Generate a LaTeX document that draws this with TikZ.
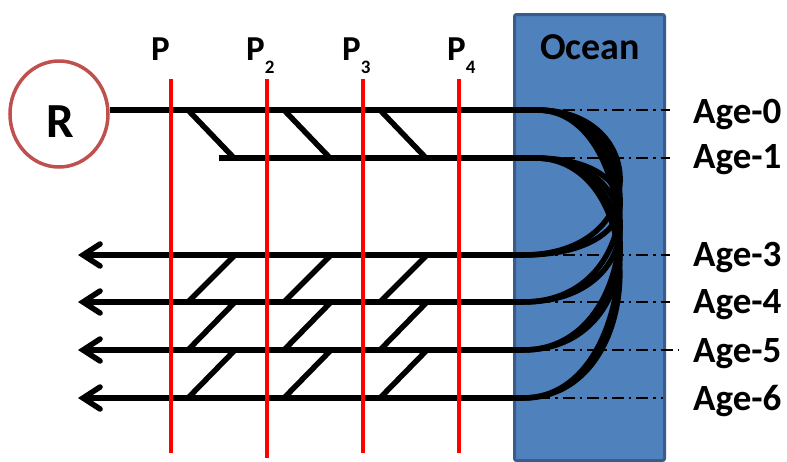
\documentclass[tikz,border=0pt]{standalone}
\usepackage{fontspec}
\setmainfont{Carlito}
\usetikzlibrary{arrows.meta,shapes.geometric}
\definecolor{oceanfill}{RGB}{79,129,189}
\definecolor{oceanline}{RGB}{56,93,138}
\definecolor{ringred}{RGB}{192,80,77}
\definecolor{posred}{RGB}{255,0,0}
\tikzset{
  fishline/.style={line width=5.5pt, black},
  redline/.style={line width=4.5pt, posred},
  dashdot/.style={line width=1.6pt, black, dash pattern=on 12pt off 5pt on 2.5pt off 5pt},
  agelabel/.style={anchor=base west, font=\fontsize{37}{37}\selectfont\bfseries, inner sep=0pt},
  plabel/.style={anchor=base west, font=\fontsize{35}{35}\selectfont\bfseries, inner sep=0pt},
  backarrow/.style={fishline, -{Straight Barb[length=17pt,width=22pt,line cap=round]}},
}
\newcommand{\psub}[1]{\raisebox{-13pt}{\fontsize{19}{19}\selectfont\bfseries #1}}
\begin{document}
\begin{tikzpicture}[x=1pt,y=-1pt]
\useasboundingbox (0,0) rectangle (787,461);
% ocean
\node[draw=oceanline, line width=3pt, fill=oceanfill, rounded corners=2pt, minimum width=150pt, minimum height=446pt, inner sep=0pt, anchor=north west] (ocean) at (513,13) {};
\node[anchor=base, font=\fontsize{38}{38}\selectfont\bfseries, inner sep=0pt] (oceantxt) at (590,59) {Ocean};
% R
\node[ellipse, draw=ringred, line width=3.5pt, minimum width=98pt, minimum height=106pt, inner sep=0pt] (R) at (59,114) {};
\node[font=\fontsize{49}{49}\selectfont\bfseries, inner sep=0pt, anchor=base] (Rtxt) at (60,137) {R};
% coordinates
\coordinate (T0) at (537,110);
\coordinate (T1) at (535,158);
\coordinate (T1s) at (219,158);
\foreach \n/\y in {3/255,4/302,5/350,6/398}{
  \coordinate (B\n) at (523,\y);
  \coordinate (L\n) at (78,\y);
}
% dash-dot age lines
\foreach \n/\y/\e in {0/110/670,1/158/670,3/255/670,4/302/670,5/350/678,6/398/663}{
  \coordinate (D\n s) at (538,\y);
  \coordinate (D\n e) at (\e,\y);
  \draw[dashdot] (D\n s) -- (D\n e);
}
% fish lines
\draw[fishline] (T0) -- (T0 -| R.east);
\draw[fishline] (T1s) -- (T1);
\foreach \n in {3,4,5,6}{
  \draw[backarrow] (B\n) -- (L\n);
}
% ocean loops
\foreach \t in {T0,T1}{
  \foreach \b in {B3,B4,B5,B6}{
    \draw[fishline] (\t) .. controls (\t -| 650,0) and (\b -| 650,0) .. (\b);
  }
}
% diagonals between rows
\foreach \x in {171,267,363}{
  \coordinate (ua\x) at (\x+17,110);
  \coordinate (ub\x) at (\x+63,158);
  \draw[fishline] (ua\x) -- (ub\x);
  \foreach \ya/\yb in {255/302,302/350,350/398}{
    \coordinate (da\x\ya) at (\x+17,\yb);
    \coordinate (db\x\ya) at (\x+64,\ya);
    \draw[fishline] (da\x\ya) -- (db\x\ya);
  }
}
% red position lines
\foreach \x/\b in {171/453,267/458,363/453,459/453}{
  \coordinate (rt\x) at (\x,79);
  \coordinate (rb\x) at (\x,\b);
  \draw[redline] (rt\x) -- (rb\x);
}
% P labels
\node[plabel] (p1) at (151,60) {P};
\node[plabel] (p2) at (246,60) {P\psub{2}};
\node[plabel] (p3) at (342,60) {P\psub{3}};
\node[plabel] (p4) at (447,60) {P\psub{4}};
% age labels
\node[agelabel] (a0) at (693,123) {Age-0};
\node[agelabel] (a1) at (693,168) {Age-1};
\node[agelabel] (a3) at (693,266) {Age-3};
\node[agelabel] (a4) at (693,313) {Age-4};
\node[agelabel] (a5) at (693,362) {Age-5};
\node[agelabel] (a6) at (693,410) {Age-6};
\end{tikzpicture}
\end{document}
